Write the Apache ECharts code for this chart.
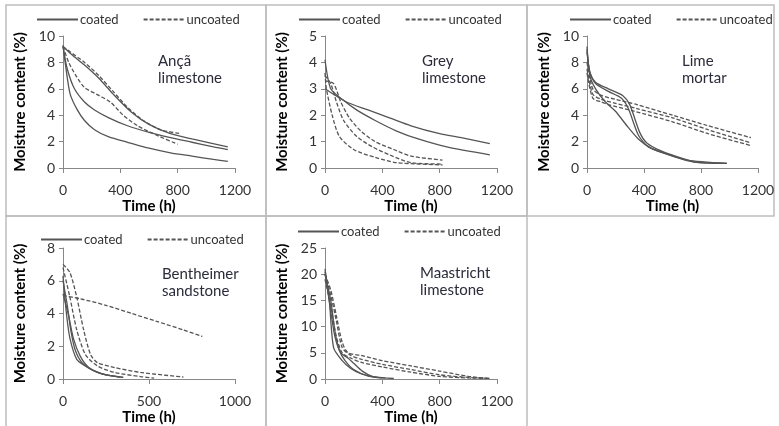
<!DOCTYPE html>
<html><head><meta charset="utf-8">
<script src="https://cdn.jsdelivr.net/npm/echarts@6/dist/echarts.min.js"></script>
<style>html,body{margin:0;padding:0;background:#fff}#c{width:779px;height:426px}</style>
</head><body><div id="c"></div>
<script>
// ---- Data (time h, moisture %) ----
const panelNames = ['Ançã\nlimestone','Grey\nlimestone','Lime\nmortar','Bentheimer\nsandstone','Maastricht\nlimestone'];
const xMax = [1200,1200,1200,1000,1200];
const xStep = [400,400,400,500,400];
const yMax = [10,5,10,8,25];
const yStep = [2,1,2,2,5];

// Ançã limestone
const ancaCoated1 = [[0,9.3],[20,7.6],[50,5.6],[100,4.4],[150,3.6],[220,2.9],[320,2.35],[450,1.95],[600,1.5],[750,1.15],[900,0.9],[1050,0.65],[1150,0.5]];
const ancaCoated2 = [[0,9.2],[30,7.5],[80,6.0],[150,5.0],[220,4.4],[320,3.8],[450,3.2],[600,2.7],[750,2.3],[900,1.95],[1050,1.6],[1150,1.4]];
const ancaCoated3 = [[0,9.2],[60,8.6],[150,7.8],[250,6.8],[350,5.6],[480,4.2],[600,3.3],[750,2.6],[900,2.2],[1150,1.6]];
const ancaUncoated1 = [[0,9.2],[50,8.8],[150,8.0],[250,7.0],[350,5.8],[450,4.6],[560,3.6],[680,2.9],[820,2.6]];
const ancaUncoated2 = [[0,9.2],[40,8.0],[90,7.0],[150,6.1],[250,5.5],[330,5.0],[420,4.0],[520,3.2],[650,2.5],[800,1.8]];

// Grey limestone
const greyCoated1 = [[0,3.0],[150,2.5],[300,2.2],[450,1.9],[600,1.6],[800,1.3],[950,1.15],[1150,0.92]];
const greyCoated2 = [[0,4.1],[40,3.0],[120,2.6],[220,2.2],[350,1.8],[500,1.4],[650,1.1],[850,0.8],[1150,0.5]];
const greyUncoated1 = [[0,3.6],[10,3.0],[50,2.0],[100,1.2],[200,0.7],[350,0.4],[500,0.2],[820,0.12]];
const greyUncoated2 = [[0,3.5],[40,3.2],[80,2.5],[130,1.8],[220,1.2],[330,0.8],[450,0.5],[600,0.2],[820,0.15]];
const greyUncoated3 = [[0,3.3],[60,3.2],[110,2.5],[170,1.9],[250,1.4],[350,1.0],[480,0.7],[600,0.45],[820,0.3]];

// Lime mortar
const limeCoated1 = [[0,9.2],[20,7.0],[60,6.0],[130,5.0],[200,4.3],[280,3.2],[360,2.2],[450,1.5],[600,0.9],[750,0.45],[980,0.35]];
const limeCoated2 = [[0,9.0],[20,7.2],[60,6.4],[150,5.8],[240,5.3],[290,4.5],[360,2.5],[430,1.6],[550,1.1],[700,0.6],[980,0.35]];
const limeCoated3 = [[0,8.8],[20,7.3],[60,6.5],[150,6.0],[250,5.5],[300,4.8],[370,2.7],[420,1.9],[520,1.3],[680,0.7],[800,0.4],[980,0.35]];
const limeUncoated1 = [[0,8.0],[40,6.0],[100,5.5],[200,5.2],[350,4.8],[600,4.0],[850,3.2],[1150,2.3]];
const limeUncoated2 = [[0,7.5],[40,5.6],[100,5.2],[200,4.9],[350,4.5],[600,3.8],[850,2.9],[1150,1.9]];
const limeUncoated3 = [[0,7.2],[40,5.3],[100,5.0],[150,4.8],[330,4.3],[600,3.5],[850,2.6],[1150,1.7]];

// Bentheimer sandstone
const benCoated1 = [[0,6.3],[20,4.0],[40,2.5],[80,1.2],[130,0.8],[180,0.5],[250,0.25],[350,0.1]];
const benCoated2 = [[0,6.0],[25,4.5],[45,3.0],[70,1.8],[110,1.0],[170,0.55],[230,0.3],[350,0.1]];
const benCoated3 = [[0,5.2],[30,4.0],[60,2.5],[100,1.4],[150,0.7],[220,0.35],[330,0.12]];
const benUncoated1 = [[0,5.1],[100,4.9],[250,4.5],[400,4.0],[550,3.5],[700,3.0],[810,2.6]];
const benUncoated2 = [[0,7.0],[40,6.5],[80,5.0],[120,3.0],[160,1.5],[200,1.0],[300,0.7],[450,0.4],[700,0.12]];
const benUncoated3 = [[0,6.8],[40,5.0],[80,3.0],[130,1.5],[200,0.8],[300,0.4],[450,0.15],[530,0.05]];

// Maastricht limestone
const maaCoated1 = [[0,21],[30,15],[60,6],[120,3.5],[180,2.0],[250,1.0],[350,0.3],[480,0.1]];
const maaCoated2 = [[0,20.5],[40,13],[70,8],[110,5],[160,4],[200,3],[260,1.5],[330,0.5],[400,0.2]];
const maaCoated3 = [[0,20],[40,15],[70,9],[100,5.5],[140,3.5],[200,1.8],[300,0.6],[420,0.2]];
const maaUncoated1 = [[0,20],[40,17],[80,12],[120,7],[160,5],[250,4.5],[400,3.5],[600,2.5],[800,1.5],[1000,0.5],[1150,0.1]];
const maaUncoated2 = [[0,20],[40,16],[80,11],[120,6],[180,4.5],[250,3.8],[400,2.8],[600,1.8],[800,0.8],[1000,0.3],[1150,0.1]];
const maaUncoated3 = [[0,19],[40,14],[80,8],[120,5],[180,4],[250,3.2],[400,2.3],[600,1.3],[800,0.5],[1000,0.2],[1150,0.1]];

const coatedSets = [
  [ancaCoated1, ancaCoated2, ancaCoated3],
  [greyCoated1, greyCoated2],
  [limeCoated1, limeCoated2, limeCoated3],
  [benCoated1, benCoated2, benCoated3],
  [maaCoated1, maaCoated2, maaCoated3]
];
const uncoatedSets = [
  [ancaUncoated1, ancaUncoated2],
  [greyUncoated1, greyUncoated2, greyUncoated3],
  [limeUncoated1, limeUncoated2, limeUncoated3],
  [benUncoated1, benUncoated2, benUncoated3],
  [maaUncoated1, maaUncoated2, maaUncoated3]
];

// ---- Layout ----
const FONT = 'Lato';
const grids = [
  {left:63, top:36, width:172, height:132},
  {left:325, top:36, width:172, height:132},
  {left:587, top:36, width:171, height:132},
  {left:63, top:248, width:172, height:131},
  {left:325, top:248, width:172, height:131}
];
const legendPos = [
  {left:36, top:13},
  {left:298, top:13},
  {left:569, top:13},
  {left:40, top:233},
  {left:297, top:225}
];
const notePos = [
  {left:158, top:53},
  {left:422, top:53},
  {left:682, top:53},
  {left:162, top:266},
  {left:420, top:265}
];
const frames = [[6,5,260,211],[266,5,261,211],[527,5,247,211],[6,216,260,215],[266,216,261,215]];

const lineColor = '#555';
const option = {
  animation:false,
  backgroundColor:'#fff',
  textStyle:{fontFamily:FONT},
  grid: grids,
  xAxis: grids.map((g,i)=>({
    type:'value', gridIndex:i, min:0, max:xMax[i], interval:xStep[i],
    name:'Time (h)', nameLocation:'middle', nameGap:31,
    nameTextStyle:{fontFamily:FONT, fontWeight:'bold', fontSize:15, color:'#000'},
    axisLine:{show:true, lineStyle:{color:'#888', width:1}},
    axisTick:{show:true, length:5, lineStyle:{color:'#888'}},
    axisLabel:{fontFamily:FONT, fontSize:14, color:'#333', margin:15, formatter:v=>String(v)},
    splitLine:{show:false}
  })),
  yAxis: grids.map((g,i)=>({
    type:'value', gridIndex:i, min:0, max:yMax[i], interval:yStep[i],
    name:'Moisture content (%)', nameLocation:'middle', nameGap:35,
    nameTextStyle:{fontFamily:FONT, fontWeight:'bold', fontSize:15, color:'#000'},
    axisLine:{show:true, lineStyle:{color:'#888', width:1}},
    axisTick:{show:true, length:4, lineStyle:{color:'#888'}},
    axisLabel:{fontFamily:FONT, fontSize:14, color:'#333', margin:8, formatter:v=>String(v)},
    splitLine:{show:false}
  })),
  legend: legendPos.map(p=>({
    left:p.left, top:p.top, width:260, padding:0, itemGap:24, itemWidth:41, itemHeight:12,
    data:['coated','uncoated'],
    itemStyle:{opacity:0},
    textStyle:{fontFamily:FONT, fontSize:13, color:'#333', padding:[0,0,0,-3]}
  })),
  title: notePos.map((p,i)=>({
    text:panelNames[i], left:p.left, top:p.top, padding:0,
    textStyle:{fontFamily:FONT, fontSize:15, fontWeight:'normal', color:'#2b2b3a', lineHeight:17}
  })),
  graphic: frames.map(f=>({
    type:'rect', shape:{x:f[0], y:f[1], width:f[2], height:f[3]},
    style:{fill:'none', stroke:'#bdbdbd', lineWidth:1.5}, silent:true, z:-1
  })),
  series: []
};

coatedSets.forEach((set,i)=>set.forEach(d=>option.series.push({
  type:'line', name:'coated', xAxisIndex:i, yAxisIndex:i, data:d,
  symbol:'none', smooth:0.25,
  lineStyle:{color:lineColor, width:1.3, type:'solid'}, itemStyle:{color:lineColor}
})));
uncoatedSets.forEach((set,i)=>set.forEach(d=>option.series.push({
  type:'line', name:'uncoated', xAxisIndex:i, yAxisIndex:i, data:d,
  symbol:'none', smooth:0.25,
  lineStyle:{color:lineColor, width:1.3, type:[4,2]}, itemStyle:{color:lineColor}
})));

const chart = echarts.init(document.getElementById('c'), null, {renderer:'canvas'});
chart.setOption(option);
</script>
</body></html>
